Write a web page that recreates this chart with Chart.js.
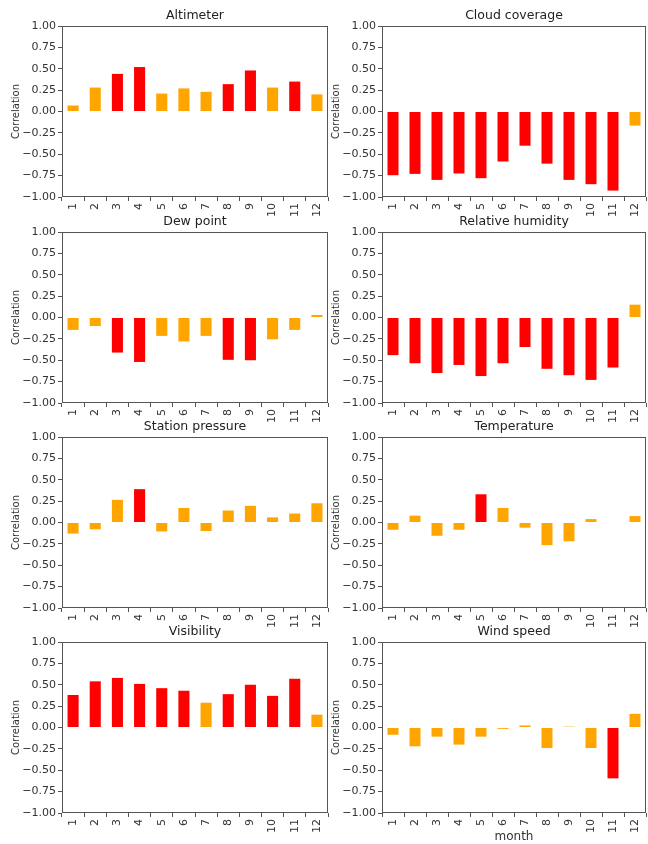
<!DOCTYPE html>
<html>
<head>
<meta charset="utf-8">
<script src="https://cdn.jsdelivr.net/npm/chart.js@4.4.0/dist/chart.umd.min.js"></script>
<style>
    body { margin: 0; background: #fff; }
    #wrap { position: relative; width: 648px; height: 844px; overflow: hidden; background: #fff; }
    #wrap canvas { position: absolute; }
</style>
</head>
<body>
<div id="wrap"></div>
<script>
// Data (correlation per month)
const months = ['1', '2', '3', '4', '5', '6', '7', '8', '9', '10', '11', '12'];
const altimeter = [0.07, 0.28, 0.44, 0.52, 0.21, 0.27, 0.23, 0.32, 0.48, 0.28, 0.35, 0.20];
const cloudCoverage = [-0.745, -0.73, -0.80, -0.725, -0.78, -0.585, -0.40, -0.61, -0.80, -0.85, -0.925, -0.165];
const dewPoint = [-0.145, -0.10, -0.41, -0.52, -0.215, -0.28, -0.215, -0.495, -0.50, -0.255, -0.145, 0.03];
const relativeHumidity = [-0.44, -0.535, -0.65, -0.555, -0.685, -0.535, -0.345, -0.60, -0.675, -0.73, -0.585, 0.15];
const stationPressure = [-0.13, -0.08, 0.265, 0.39, -0.105, 0.17, -0.10, 0.14, 0.195, 0.06, 0.105, 0.225];
const temperature = [-0.085, 0.08, -0.155, -0.085, 0.33, 0.17, -0.06, -0.265, -0.22, 0.04, 0, 0.075];
const visibility = [0.38, 0.54, 0.58, 0.51, 0.46, 0.43, 0.29, 0.39, 0.50, 0.37, 0.57, 0.15];
const windSpeed = [-0.085, -0.22, -0.107, -0.20, -0.107, -0.016, 0.024, -0.24, 0.01, -0.24, -0.595, 0.16];

const titles = ['Altimeter', 'Cloud coverage', 'Dew point', 'Relative humidity',
    'Station pressure', 'Temperature', 'Visibility', 'Wind speed'];
const seriesList = [altimeter, cloudCoverage, dewPoint, relativeHumidity,
    stationPressure, temperature, visibility, windSpeed];

Chart.defaults.font.family = "'DejaVu Sans', sans-serif";
Chart.defaults.color = '#333';

// strong correlations (|r| >= 0.3) in red, the rest orange
function barColor(v) {
    return Math.abs(v) >= 0.3 ? '#ff0000' : '#ffa500';
}

// draws the full box around the plot area (like matplotlib spines)
const boxPlugin = {
    id: 'box',
    afterDraw: (chart) => {
        const a = chart.chartArea;
        const ctx = chart.ctx;
        ctx.save();
        ctx.strokeStyle = '#555';
        ctx.lineWidth = 1;
        ctx.strokeRect(Math.round(a.left) + 0.5, Math.round(a.top) + 0.5,
            Math.round(a.right - a.left) - 1, Math.round(a.bottom - a.top) - 1);
        ctx.restore();
    }
};

const wrap = document.getElementById('wrap');
const plotTops = [26, 232, 437, 642];
const plotHeight = 171;

seriesList.forEach(function(values, i) {
    const row = Math.floor(i / 2);
    const col = i % 2;
    const lastRow = row === 3;
    const showMonth = lastRow && col === 1;

    const canvasLeft = col === 0 ? 0 : 324;
    const canvasWidth = col === 0 ? 332 : 324;
    const yAxisWidth = col === 0 ? 62 : 58;
    const padRight = col === 0 ? 4 : 2;
    const xAxisHeight = lastRow ? 31 : 22;
    const canvasTop = plotTops[row] - 26;
    const canvasHeight = 26 + plotHeight + xAxisHeight;

    const canvas = document.createElement('canvas');
    canvas.width = canvasWidth;
    canvas.height = canvasHeight;
    canvas.style.left = canvasLeft + 'px';
    canvas.style.top = canvasTop + 'px';
    wrap.appendChild(canvas);

    new Chart(canvas.getContext('2d'), {
        type: 'bar',
        data: {
            labels: months,
            datasets: [{
                data: values,
                backgroundColor: values.map(barColor),
                borderWidth: 0,
                barPercentage: 0.5,
                categoryPercentage: 1.0
            }]
        },
        options: {
            responsive: false,
            animation: false,
            layout: { padding: { left: 0, right: padRight, top: 0, bottom: 0 } },
            plugins: {
                legend: { display: false },
                tooltip: { enabled: false },
                title: {
                    display: true,
                    fullSize: false, // centred over the plot area
                    text: titles[i],
                    color: '#222',
                    font: { size: 12.5, weight: 'normal' },
                    padding: { top: 8, bottom: 3 }
                }
            },
            scales: {
                x: {
                    border: { display: false },
                    grid: { drawOnChartArea: false, drawTicks: true, tickLength: 4, color: '#555' },
                    ticks: {
                        autoSkip: false,
                        minRotation: 90,
                        maxRotation: 90,
                        padding: 2,
                        color: '#333',
                        font: { size: 11 }
                    },
                    title: {
                        display: showMonth,
                        text: 'month',
                        color: '#333',
                        font: { size: 12 },
                        padding: { top: 0, bottom: 0 }
                    },
                    afterFit: function(scale) {
                        scale.height = xAxisHeight;
                        scale.paddingLeft = 0;
                        scale.paddingRight = 0;
                    }
                },
                y: {
                    min: -1,
                    max: 1,
                    border: { display: false },
                    grid: { drawOnChartArea: false, drawTicks: true, tickLength: 4, color: '#555' },
                    ticks: {
                        stepSize: 0.25,
                        padding: 2,
                        color: '#333',
                        font: { size: 11 },
                        callback: function(v) {
                            return (v < 0 ? '\u2212' : '') + Math.abs(v).toFixed(2);
                        }
                    },
                    title: {
                        display: true,
                        text: 'Correlation',
                        color: '#333',
                        font: { size: 10 },
                        padding: { top: col === 0 ? 10 : 6, bottom: 0 }
                    },
                    afterFit: function(scale) {
                        scale.width = yAxisWidth;
                        scale.paddingTop = 0;
                        scale.paddingBottom = 0;
                    }
                }
            }
        },
        plugins: [boxPlugin]
    });
});
</script>
</body>
</html>
